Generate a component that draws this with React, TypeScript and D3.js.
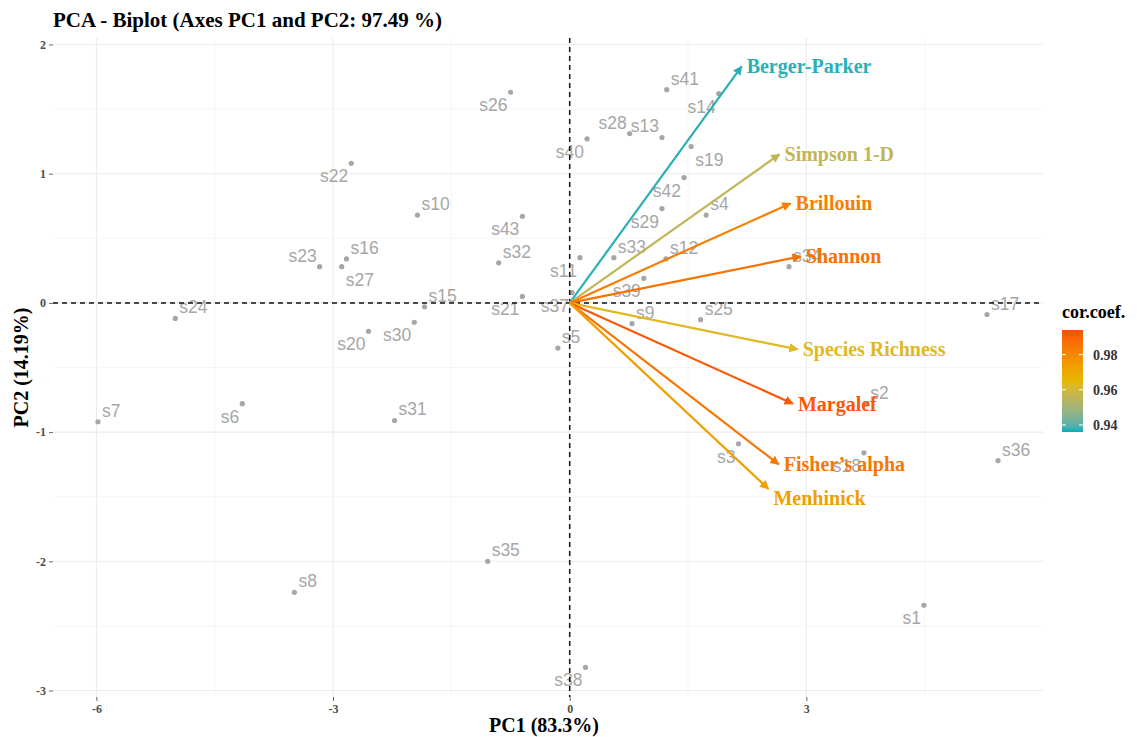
import React, { useEffect, useRef } from 'react';
import * as d3 from 'd3';

// sample scores on PC1 / PC2
const sampleNames = [
  "s1", "s2", "s3", "s4", "s5", "s6", "s7", "s8", "s9", "s10",
  "s11", "s12", "s13", "s14", "s15", "s16", "s17", "s18", "s19", "s20",
  "s21", "s22", "s23", "s24", "s25", "s26", "s27", "s28", "s29", "s30",
  "s31", "s32", "s33", "s34", "s35", "s36", "s37", "s38", "s39", "s40",
  "s41", "s42", "s43"
];
const pc1 = [
  4.49, 3.76, 2.14, 1.73, -0.15, -4.15, -5.98, -3.49, 0.79, -1.93,
  0.13, 1.22, 1.17, 1.89, -1.84, -2.83, 5.29, 3.73, 1.54, -2.55,
  -0.60, -2.77, -3.17, -5.00, 1.66, -0.75, -2.89, 0.76, 1.17, -1.97,
  -2.22, -0.90, 0.56, 2.78, -1.04, 5.43, 0.03, 0.20, 0.94, 0.22,
  1.23, 1.45, -0.60
];
const pc2 = [
  -2.34, -0.78, -1.09, 0.68, -0.35, -0.78, -0.92, -2.24, -0.16, 0.68,
  0.35, 0.34, 1.28, 1.62, -0.03, 0.34, -0.09, -1.16, 1.21, -0.22,
  0.05, 1.08, 0.28, -0.12, -0.13, 1.63, 0.28, 1.31, 0.73, -0.15,
  -0.91, 0.31, 0.35, 0.28, -2.00, -1.22, 0.08, -2.82, 0.19, 1.27,
  1.65, 0.97, 0.67
];
// where each sample label sits relative to its point (repel result)
const labelSide = [
  "sw", "ne", "sw", "ne", "ne", "sw", "ne", "ne", "ne", "ne",
  "sw", "ne", "nw", "sw", "ne", "ne", "ne", "sw", "se", "sw",
  "sw", "sw", "nw", "ne", "ne", "sw", "se", "nw", "sw", "sw",
  "ne", "ne", "ne", "ne", "ne", "ne", "sw", "sw", "sw", "sw",
  "ne", "sw", "sw"
];

// variable loadings (arrows)
const varNames = [
  "Berger-Parker", "Simpson 1-D", "Brillouin", "Shannon",
  "Species Richness", "Margalef", "Fisher\u2019s alpha", "Menhinick"
];
const varPc1 = [2.18, 2.66, 2.80, 2.93, 2.89, 2.83, 2.65, 2.52];
const varPc2 = [1.83, 1.15, 0.77, 0.36, -0.36, -0.78, -1.25, -1.44];
const corCoef = [0.937, 0.956, 0.983, 0.986, 0.963, 0.992, 0.985, 0.973];

const xTicks = [-6, -3, 0, 3];
const yTicks = [2, 1, 0, -1, -2, -3];
const legendTicks = [0.94, 0.96, 0.98];

const PcaBiplot = ({ width = 1137, height = 737 }) => {
  const svgRef = useRef(null);

  useEffect(() => {
    const svg = d3.select(svgRef.current);
    svg.selectAll("*").remove();

    const serif = "'Liberation Serif', 'Times New Roman', serif";
    const sans = "'Liberation Sans', Arial, sans-serif";

    const panel = { left: 53, right: 1043, top: 38, bottom: 697 };

    const x = d3.scaleLinear().domain([-6.55, 6.0]).range([panel.left, panel.right]);
    const y = d3.scaleLinear().domain([-3.05, 2.05]).range([panel.bottom, panel.top]);

    // ggplot-like gradient (interpolated in Lab space)
    const colorDomain = [0.936, 0.994];
    const color = d3.scaleLinear<string>()
      .domain([colorDomain[0], (colorDomain[0] + colorDomain[1]) / 2, colorDomain[1]])
      .range(["#00AFBB", "#E7B800", "#FC4E07"])
      .interpolate(d3.interpolateLab);

    svg.append("rect").attr("width", width).attr("height", height).attr("fill", "white");

    // grid: minor then major
    const grid = svg.append("g");
    const xMinor = d3.range(-4.5, 6.01, 3);
    const yMinor = d3.range(-2.5, 2.01, 1);
    grid.selectAll(".xminor").data(xMinor).enter().append("line")
      .attr("x1", d => x(d)).attr("x2", d => x(d))
      .attr("y1", panel.top).attr("y2", panel.bottom)
      .attr("stroke", "#f2f2f2").attr("stroke-width", 0.7);
    grid.selectAll(".yminor").data(yMinor).enter().append("line")
      .attr("y1", d => y(d)).attr("y2", d => y(d))
      .attr("x1", panel.left).attr("x2", panel.right)
      .attr("stroke", "#f2f2f2").attr("stroke-width", 0.7);
    grid.selectAll(".xmajor").data(xTicks).enter().append("line")
      .attr("x1", d => x(d)).attr("x2", d => x(d))
      .attr("y1", panel.top).attr("y2", panel.bottom)
      .attr("stroke", "#ebebeb").attr("stroke-width", 1.1);
    grid.selectAll(".ymajor").data(yTicks).enter().append("line")
      .attr("y1", d => y(d)).attr("y2", d => y(d))
      .attr("x1", panel.left).attr("x2", panel.right)
      .attr("stroke", "#ebebeb").attr("stroke-width", 1.1);

    // axes (ticks + labels), plain hyphen for negatives
    const fmt = d => String(d);
    const xAxis = svg.append("g")
      .attr("transform", `translate(0,${panel.bottom})`)
      .call(d3.axisBottom(x).tickValues(xTicks).tickSize(4).tickPadding(3).tickFormat(fmt));
    xAxis.select(".domain").remove();
    xAxis.selectAll("line").attr("stroke", "#666");
    xAxis.selectAll("text")
      .style("font-family", serif).style("font-weight", "bold")
      .style("font-size", "12px").style("fill", "#4d4d4d");

    const yAxis = svg.append("g")
      .attr("transform", `translate(${panel.left},0)`)
      .call(d3.axisLeft(y).tickValues(yTicks).tickSize(4).tickPadding(3).tickFormat(fmt));
    yAxis.select(".domain").remove();
    yAxis.selectAll("line").attr("stroke", "#666");
    yAxis.selectAll("text")
      .style("font-family", serif).style("font-weight", "bold")
      .style("font-size", "12px").style("fill", "#4d4d4d");

    // samples
    const samples = sampleNames.map((name, i) => ({ name, x: pc1[i], y: pc2[i], side: labelSide[i] }));

    svg.append("g").selectAll("circle")
      .data(samples).enter().append("circle")
      .attr("cx", d => x(d.x)).attr("cy", d => y(d.y))
      .attr("r", 2.6).attr("fill", "#a6a6a6");

    svg.append("g").selectAll("text")
      .data(samples).enter().append("text")
      .attr("x", d => x(d.x) + (d.side[1] === "e" ? 4 : -3))
      .attr("y", d => y(d.y) + (d.side[0] === "n" ? -5 : 19))
      .attr("text-anchor", d => d.side[1] === "e" ? "start" : "end")
      .style("font-family", sans).style("font-size", "17.5px")
      .style("fill", "#a6a6a6")
      .text(d => d.name);

    // zero reference lines
    svg.append("line")
      .attr("x1", panel.left).attr("x2", panel.right)
      .attr("y1", y(0)).attr("y2", y(0))
      .attr("stroke", "#111").attr("stroke-width", 1.5).attr("stroke-dasharray", "5,4");
    svg.append("line")
      .attr("x1", x(0)).attr("x2", x(0))
      .attr("y1", panel.top).attr("y2", panel.bottom)
      .attr("stroke", "#111").attr("stroke-width", 1.5).attr("stroke-dasharray", "5,4");

    // arrows
    const vars = varNames.map((name, i) => ({ name, x: varPc1[i], y: varPc2[i], c: corCoef[i] }));
    const defs = svg.append("defs");
    vars.forEach((d, i) => {
      defs.append("marker")
        .attr("id", `arrow-${i}`)
        .attr("viewBox", "0 0 10 10")
        .attr("refX", 9).attr("refY", 5)
        .attr("markerWidth", 4.2).attr("markerHeight", 4.2)
        .attr("markerUnits", "strokeWidth")
        .attr("orient", "auto")
        .append("path")
        .attr("d", "M0,0 L10,5 L0,10 Z")
        .attr("fill", color(d.c));
    });

    svg.append("g").selectAll("line")
      .data(vars).enter().append("line")
      .attr("x1", x(0)).attr("y1", y(0))
      .attr("x2", d => x(d.x)).attr("y2", d => y(d.y))
      .attr("stroke", d => color(d.c))
      .attr("stroke-width", 2.2)
      .attr("marker-end", (d, i) => `url(#arrow-${i})`);

    svg.append("g").selectAll("text")
      .data(vars).enter().append("text")
      .attr("x", d => x(d.x) + 5)
      .attr("y", d => y(d.y) + (d.name === "Menhinick" ? 16 : 7))
      .attr("text-anchor", "start")
      .style("font-family", serif).style("font-weight", "bold")
      .style("font-size", "20px")
      .style("fill", d => color(d.c))
      .text(d => d.name);

    // titles
    svg.append("text")
      .attr("x", 53).attr("y", 27)
      .style("font-family", serif).style("font-weight", "bold")
      .style("font-size", "21px").style("fill", "#000")
      .text("PCA - Biplot (Axes PC1 and PC2: 97.49 %)");

    svg.append("text")
      .attr("x", (panel.left + panel.right) / 2 - 4).attr("y", 732)
      .attr("text-anchor", "middle")
      .style("font-family", serif).style("font-weight", "bold")
      .style("font-size", "20px").style("fill", "#000")
      .text("PC1 (83.3%)");

    svg.append("text")
      .attr("transform", `translate(28,${(panel.top + panel.bottom) / 2}) rotate(-90)`)
      .attr("text-anchor", "middle")
      .style("font-family", serif).style("font-weight", "bold")
      .style("font-size", "20px").style("fill", "#000")
      .text("PC2 (14.19%)");

    // colour legend
    const lg = { x: 1062, top: 330, bottom: 432, w: 21 };
    const grad = defs.append("linearGradient")
      .attr("id", "corGrad").attr("x1", "0").attr("y1", "1").attr("x2", "0").attr("y2", "0");
    d3.range(0, 1.001, 0.05).forEach(t => {
      const v = colorDomain[0] + t * (colorDomain[1] - colorDomain[0]);
      grad.append("stop").attr("offset", `${t * 100}%`).attr("stop-color", color(v));
    });

    svg.append("text")
      .attr("x", lg.x).attr("y", 318)
      .style("font-family", serif).style("font-weight", "bold")
      .style("font-size", "18px").style("fill", "#000")
      .text("cor.coef.");

    svg.append("rect")
      .attr("x", lg.x).attr("y", lg.top)
      .attr("width", lg.w).attr("height", lg.bottom - lg.top)
      .attr("fill", "url(#corGrad)");

    const ly = d3.scaleLinear().domain(colorDomain).range([lg.bottom, lg.top]);
    const lt = svg.append("g");
    legendTicks.forEach(v => {
      lt.append("line")
        .attr("x1", lg.x).attr("x2", lg.x + 4)
        .attr("y1", ly(v)).attr("y2", ly(v))
        .attr("stroke", "white").attr("stroke-width", 1);
      lt.append("line")
        .attr("x1", lg.x + lg.w - 4).attr("x2", lg.x + lg.w)
        .attr("y1", ly(v)).attr("y2", ly(v))
        .attr("stroke", "white").attr("stroke-width", 1);
      lt.append("text")
        .attr("x", lg.x + lg.w + 10).attr("y", ly(v) + 5)
        .style("font-family", serif).style("font-weight", "bold")
        .style("font-size", "14px").style("fill", "#333")
        .text(v.toFixed(2));
    });
  }, [width, height]);

  return (
    <div style={{ position: 'absolute', left: 0, top: 0 }}>
      <svg ref={svgRef} width={width} height={height} style={{ display: 'block' }}></svg>
    </div>
  );
};

export default function App() {
  return <PcaBiplot />;
}
